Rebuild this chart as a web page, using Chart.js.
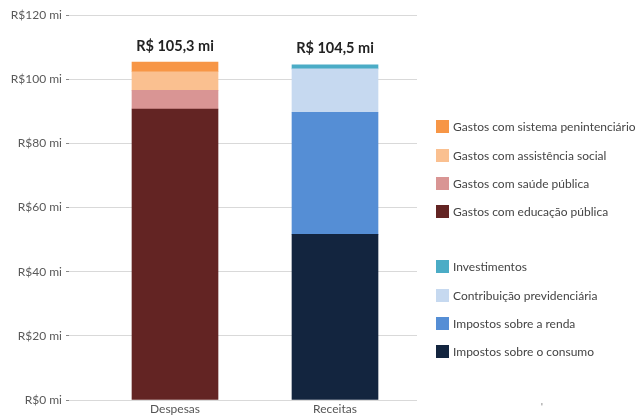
<!DOCTYPE html>
<html>
<head>
<meta charset="utf-8">
<script src="https://cdn.jsdelivr.net/npm/chart.js@4"></script>
<style>
  body { margin: 0; background: #fff; font-family: Lato, sans-serif; }
  #wrap { position: relative; width: 643px; height: 417px; }
  #legenda { position: absolute; left: 436px; top: 0; }
  .item { position: absolute; left: 0; width: 210px; height: 14px; font-size: 12px; color: #444; white-space: nowrap; }
  .item span.box { position: absolute; left: 0; top: 0; width: 13px; height: 13px; }
  .item span.txt { position: absolute; left: 17px; top: -1px; line-height: 15px; }
  #marca { position: absolute; left: 541px; top: 401px; font-size: 9px; color: #666; }
</style>
</head>
<body>
<div id="wrap">
  <canvas id="orcamentoChart"></canvas>
  <div id="legenda"></div>
  <div id="marca">'</div>
</div>
<script>
// Categorias e totais
const categorias = ['Despesas', 'Receitas'];
const totais = [105.3, 104.5];
const totaisTexto = ['R$ 105,3 mi', 'R$ 104,5 mi'];

// Despesas (de baixo para cima)
const despesasNomes = ['Gastos com educação pública', 'Gastos com saúde pública', 'Gastos com assistência social', 'Gastos com sistema penintenciário'];
const despesasValores = [90.7, 5.8, 5.8, 3.0];
const despesasCores = ['#632423', '#D99594', '#FAC090', '#F79646'];

// Receitas (de baixo para cima)
const receitasNomes = ['Impostos sobre o consumo', 'Impostos sobre a renda', 'Contribuição previdenciária', 'Investimentos'];
const receitasValores = [51.6, 38.1, 13.5, 1.3];
const receitasCores = ['#13253F', '#558ED5', '#C6D9F0', '#4BACC6'];

// Eixo Y
const yTicks = [0, 20, 40, 60, 80, 100, 120];

const datasets = [];
despesasNomes.forEach((nome, i) => {
    datasets.push({
        label: nome,
        data: [{x: 0, y: despesasValores[i]}],
        backgroundColor: despesasCores[i],
        barThickness: 86,
        borderWidth: 0
    });
});
receitasNomes.forEach((nome, i) => {
    datasets.push({
        label: nome,
        data: [{x: 1, y: receitasValores[i]}],
        backgroundColor: receitasCores[i],
        barThickness: 86,
        borderWidth: 0
    });
});

// Rótulos de total acima das barras
const totalLabels = {
    id: 'totalLabels',
    afterDatasetsDraw(chart) {
        const ctx = chart.ctx;
        const x = chart.scales.x;
        const y = chart.scales.y;
        ctx.save();
        ctx.font = 'bold 14.5px Lato';
        ctx.fillStyle = '#222';
        ctx.textAlign = 'center';
        ctx.textBaseline = 'middle';
        totais.forEach((t, i) => {
            ctx.fillText(totaisTexto[i], x.getPixelForValue(i), y.getPixelForValue(t) - 16);
        });
        ctx.restore();
    }
};

new Chart(document.getElementById('orcamentoChart'), {
    type: 'bar',
    data: { datasets: datasets },
    options: {
        responsive: true,
        maintainAspectRatio: false,
        animation: false,
        layout: { padding: { top: 15, right: 226, bottom: 0, left: 0 } },
        scales: {
            x: {
                type: 'linear',
                stacked: true,
                offset: false,
                min: -0.6625,
                max: 1.5125,
                afterFit: (s) => { s.height = 17; },
                afterBuildTicks: (s) => { s.ticks = categorias.map((c, i) => ({value: i})); },
                ticks: {
                    padding: 2,
                    color: '#555',
                    font: { family: 'Lato', size: 12 },
                    callback: (v) => categorias[v] || ''
                },
                grid: { display: false, drawTicks: false, offset: false },
                border: { display: false }
            },
            y: {
                stacked: true,
                min: 0,
                max: 120,
                afterFit: (s) => { s.width = 69; },
                afterBuildTicks: (s) => { s.ticks = yTicks.map(v => ({value: v})); },
                ticks: {
                    padding: 4,
                    color: '#595959',
                    font: { family: 'Lato', size: 12 },
                    callback: (v) => 'R$' + v + ' mi'
                },
                grid: { color: '#d9d9d9', lineWidth: 1, tickLength: 3, tickColor: '#888' },
                border: { display: false }
            }
        },
        plugins: {
            legend: { display: false },
            tooltip: { enabled: false }
        }
    },
    plugins: [totalLabels]
});

// Legenda em HTML (duas colunas agrupadas)
const legenda = document.getElementById('legenda');
const addItem = (nome, cor, topo) => {
    const div = document.createElement('div');
    div.className = 'item';
    div.style.top = topo + 'px';
    div.innerHTML = '<span class="box" style="background:' + cor + '"></span><span class="txt">' + nome + '</span>';
    legenda.appendChild(div);
};
const topoDespesas = [120, 148.5, 177, 205];
const topoReceitas = [260, 288.5, 316.5, 345];
for (let i = 0; i < 4; i++) {
    addItem(despesasNomes[3 - i], despesasCores[3 - i], topoDespesas[i]);
    addItem(receitasNomes[3 - i], receitasCores[3 - i], topoReceitas[i]);
}
</script>
</body>
</html>
